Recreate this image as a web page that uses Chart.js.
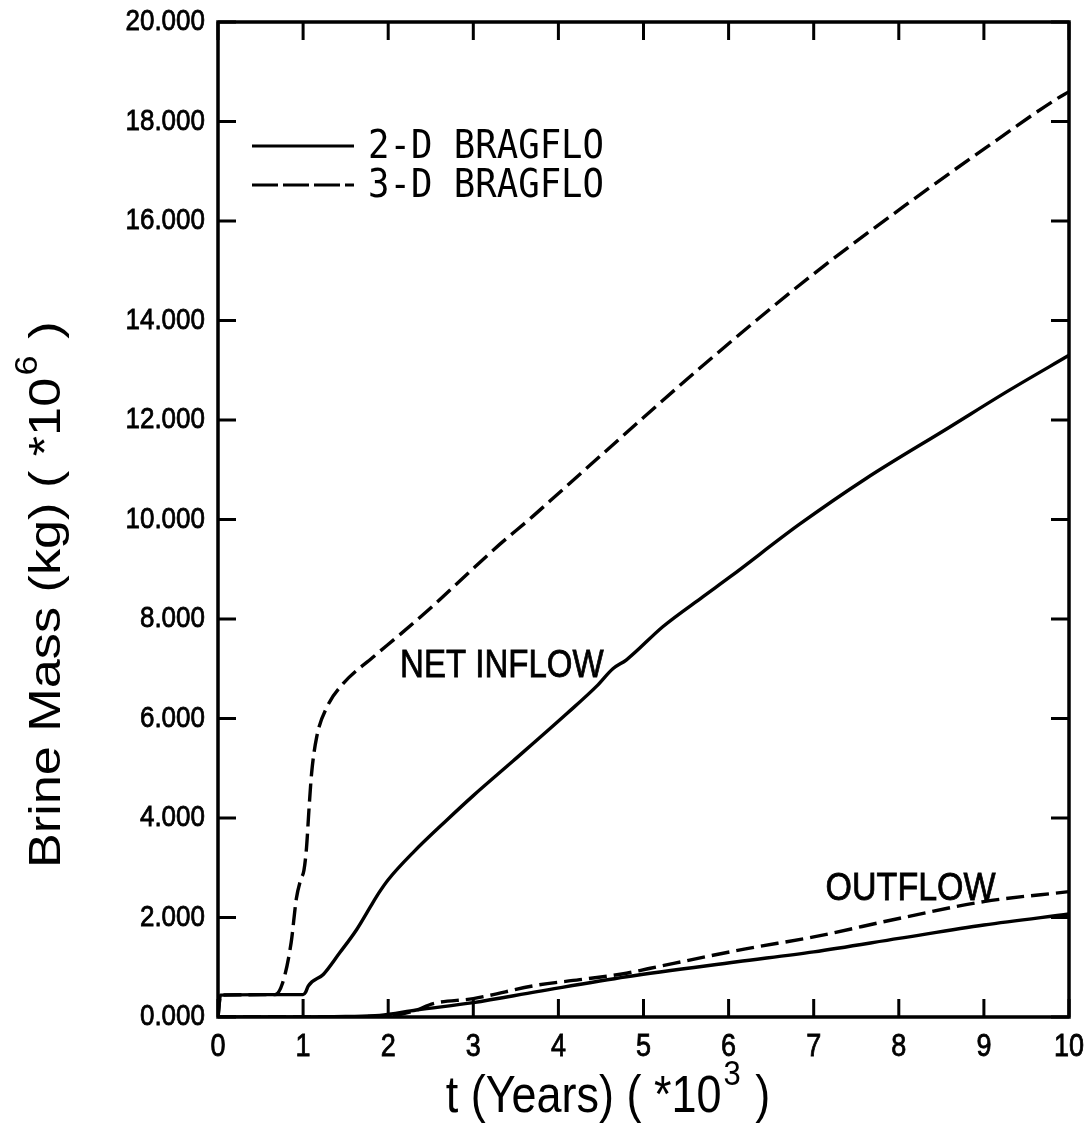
<!DOCTYPE html>
<html>
<head>
<title>Brine Mass vs Time</title>
<script src="https://cdn.jsdelivr.net/npm/chart.js"></script>
<style>
  body { margin: 0; background: #fff; }
</style>
</head>
<body>
<canvas id="brineChart" width="1090" height="1128"></canvas>
<script>
// time in thousands of years, brine mass in millions of kg
const net2dT = [0, 0.03, 0.5, 1.0, 1.03, 1.06, 1.24, 1.43, 1.63, 1.82, 1.9, 2.0, 2.3, 2.69, 3.0, 3.47, 4.1, 4.45, 4.64, 4.8, 5.23, 5.7, 6.02, 6.83, 7.62, 8.59, 9.3, 10];
const net2dM = [0, 0.44, 0.45, 0.45, 0.5, 0.62, 0.86, 1.29, 1.76, 2.30, 2.52, 2.76, 3.32, 3.96, 4.45, 5.15, 6.1, 6.65, 7.0, 7.18, 7.85, 8.45, 8.85, 9.9, 10.83, 11.85, 12.6, 13.3];

const net3dT = [0, 0.03, 0.67, 0.76, 0.86, 0.92, 0.97, 1.01, 1.04, 1.07, 1.10, 1.16, 1.28, 1.47, 1.82, 2.14, 2.53, 2.92, 3.31, 3.67, 3.9, 5.0, 5.66, 6.95, 8.16, 9.02, 9.86, 10];
const net3dM = [0, 0.44, 0.45, 0.69, 1.5, 2.37, 2.75, 2.95, 3.4, 4.2, 4.9, 5.63, 6.23, 6.70, 7.23, 7.69, 8.27, 8.89, 9.5, 10.02, 10.37, 12.05, 13.04, 14.87, 16.42, 17.47, 18.46, 18.6];

const out2dT = [0, 1.0, 1.5, 1.9, 2.33, 3.0, 3.75, 4.8, 6.1, 7, 8, 9, 10];
const out2dM = [0, 0, 0.01, 0.03, 0.14, 0.29, 0.51, 0.81, 1.11, 1.31, 1.58, 1.85, 2.07];

const out3dT = [0, 1.0, 2.0, 2.3, 2.53, 3.0, 3.75, 4.25, 4.8, 5.08, 6.2, 7, 8, 9, 10];
const out3dM = [0, 0, 0.02, 0.12, 0.27, 0.37, 0.64, 0.75, 0.88, 0.98, 1.37, 1.61, 1.98, 2.32, 2.52];

const xTickValues = [0, 1, 2, 3, 4, 5, 6, 7, 8, 9, 10];
const yTickValues = [0, 2, 4, 6, 8, 10, 12, 14, 16, 18, 20];

const legendLabels = ['2-D BRAGFLO', '3-D BRAGFLO'];
const curveLabels = [
  { text: 'NET INFLOW', t: 2.14, m: 6.83, size: 33 },
  { text: 'OUTFLOW', t: 7.14, m: 2.35, size: 34 }
];

const SANS = '"Liberation Sans", Arial, Helvetica, sans-serif';
const STRETCH = 1.16;   // lettering is taller than it is wide
const DASH = [18, 7];

function pts(t, m) {
  return t.map((x, i) => ({ x: x, y: m[i] }));
}

function series(label, t, m, dashed) {
  return {
    label: label,
    data: pts(t, m),
    borderColor: '#000',
    borderWidth: 3.4,
    borderDash: dashed ? DASH : [],
    pointRadius: 0,
    fill: false,
    cubicInterpolationMode: 'monotone'
  };
}

function tallText(ctx, text, x, y, size, align, baseline) {
  ctx.save();
  ctx.translate(x, y);
  ctx.scale(1, STRETCH);
  ctx.font = size + 'px ' + SANS;
  ctx.textAlign = align;
  ctx.textBaseline = baseline;
  ctx.lineWidth = 0.7;
  ctx.fillText(text, 0, 0);
  ctx.strokeText(text, 0, 0);
  ctx.restore();
}

// text with a superscript part, centred on the current origin
function supText(ctx, base, sup, tail, size) {
  const mainFont = size + 'px ' + SANS;
  const supFont = Math.round(size * 0.68) + 'px ' + SANS;
  ctx.font = mainFont;
  const wb = ctx.measureText(base).width;
  const wt = ctx.measureText(tail).width;
  ctx.font = supFont;
  const ws = ctx.measureText(sup).width;
  let x = -(wb + ws + wt) / 2;
  ctx.textAlign = 'left';
  ctx.textBaseline = 'alphabetic';
  ctx.font = mainFont;
  ctx.fillText(base, x, 0);
  x += wb + 2;
  ctx.font = supFont;
  ctx.fillText(sup, x, -size * 0.52);
  x += ws + 2;
  ctx.font = mainFont;
  ctx.fillText(tail, x, 0);
}

const framePlugin = {
  id: 'frame',
  afterDraw(chart) {
    const ctx = chart.ctx;
    const a = chart.chartArea;
    const xs = chart.scales.x;
    const ys = chart.scales.y;
    const tick = 18;
    ctx.save();
    ctx.strokeStyle = '#000';
    ctx.fillStyle = '#000';
    ctx.lineWidth = 3.5;
    ctx.lineCap = 'butt';
    ctx.strokeRect(a.left, a.top, a.right - a.left, a.bottom - a.top);

    // inward tick marks on all four sides
    ctx.lineWidth = 3;
    ctx.beginPath();
    xTickValues.forEach(v => {
      const px = xs.getPixelForValue(v);
      ctx.moveTo(px, a.bottom); ctx.lineTo(px, a.bottom - tick);
      ctx.moveTo(px, a.top); ctx.lineTo(px, a.top + tick);
    });
    yTickValues.forEach(v => {
      const py = ys.getPixelForValue(v);
      ctx.moveTo(a.left, py); ctx.lineTo(a.left + tick, py);
      ctx.moveTo(a.right, py); ctx.lineTo(a.right - tick, py);
    });
    ctx.stroke();

    // tick labels
    xTickValues.forEach(v => {
      tallText(ctx, String(v), xs.getPixelForValue(v), a.bottom + 30, 27, 'center', 'middle');
    });
    yTickValues.forEach(v => {
      tallText(ctx, v.toFixed(3), a.left - 13, ys.getPixelForValue(v), 26, 'right', 'middle');
    });

    // legend
    ctx.lineWidth = 3;
    const lx0 = a.left + 34, lx1 = a.left + 136;
    const rows = [a.top + 124, a.top + 163];
    rows.forEach((ry, i) => {
      ctx.setLineDash(i === 0 ? [] : [26, 5]);
      ctx.beginPath();
      ctx.moveTo(lx0, ry); ctx.lineTo(lx1, ry);
      ctx.stroke();
      ctx.setLineDash([]);
      ctx.save();
      ctx.translate(lx1 + 14, ry + 2);
      ctx.scale(0.99, 1.08);
      ctx.font = '36px "DejaVu Sans Mono", monospace';
      ctx.textAlign = 'left';
      ctx.textBaseline = 'middle';
      ctx.fillText(legendLabels[i], 0, 0);
      ctx.restore();
    });

    // curve labels
    curveLabels.forEach(c => {
      tallText(ctx, c.text, xs.getPixelForValue(c.t), ys.getPixelForValue(c.m), c.size, 'left', 'alphabetic');
    });

    // axis titles
    ctx.save();
    ctx.translate(606, 1112);
    ctx.scale(1, STRETCH);
    supText(ctx, 't (Years) ( *10', '3', ' )', 45);
    ctx.restore();

    ctx.save();
    ctx.translate(60, 597);
    ctx.rotate(-Math.PI / 2);
    ctx.scale(STRETCH, 1);
    supText(ctx, 'Brine Mass (kg) ( *10', '6', ' )', 45);
    ctx.restore();

    ctx.restore();
  }
};

new Chart(document.getElementById('brineChart').getContext('2d'), {
  type: 'line',
  data: {
    datasets: [
      series('2-D BRAGFLO net inflow', net2dT, net2dM, false),
      series('3-D BRAGFLO net inflow', net3dT, net3dM, true),
      series('2-D BRAGFLO outflow', out2dT, out2dM, false),
      series('3-D BRAGFLO outflow', out3dT, out3dM, true)
    ]
  },
  options: {
    responsive: false,
    animation: false,
    layout: { padding: { top: 22, right: 21, left: 0, bottom: 0 } },
    plugins: { legend: { display: false }, tooltip: { enabled: false } },
    scales: {
      x: {
        type: 'linear',
        min: 0,
        max: 10,
        afterFit(s) { s.height = 111; },
        grid: { display: false, drawTicks: false },
        border: { display: false },
        ticks: { display: false, stepSize: 1 }
      },
      y: {
        type: 'linear',
        min: 0,
        max: 20,
        afterFit(s) { s.width = 218; },
        grid: { display: false, drawTicks: false },
        border: { display: false },
        ticks: { display: false, stepSize: 2 }
      }
    }
  },
  plugins: [framePlugin]
});
</script>
</body>
</html>
